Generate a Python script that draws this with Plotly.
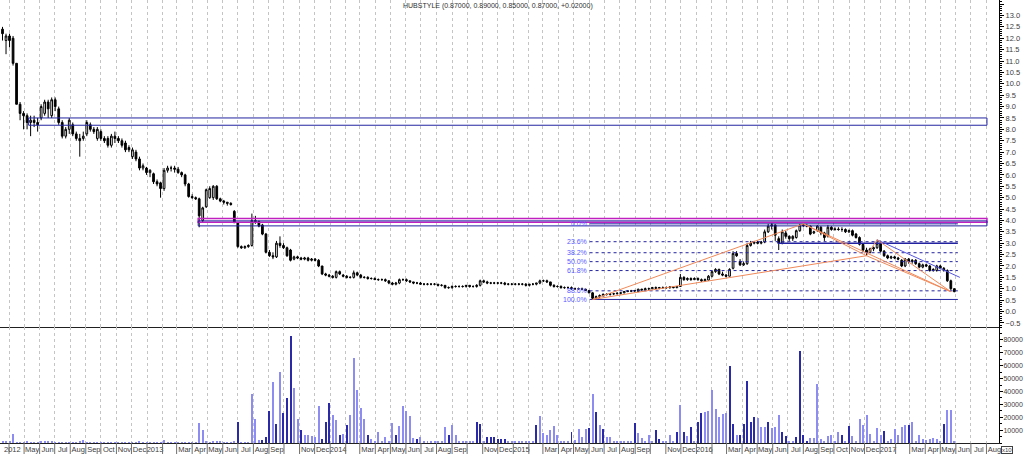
import pandas as pd
import plotly.graph_objects as go
from plotly.subplots import make_subplots

# ---------------- data (weekly bars) ----------------
start_week = "2012-03-19"
opens = [12.4, 11.9, 12.1, 12.0, 10.9, 9.1, 8.7, 8.6, 8.3, 8.4,
         8.3, 8.5, 8.7, 9.2, 8.6, 9.3, 8.9, 8.3, 7.7, 8.0,
         8.2, 7.8, 7.6, 7.6, 7.8, 8.2, 8.0, 7.6, 7.9, 7.6,
         7.6, 7.3, 7.7, 7.6, 7.5, 7.4, 7.2, 6.8, 7.0, 6.7,
         6.3, 6.3, 6.1, 6.05, 5.7, 5.65, 5.4, 6.2, 6.3, 6.3,
         6.25, 6.1, 6.0, 5.6, 5.05, 5.0, 4.95, 4.0, 4.6, 5.0,
         5.0, 5.5, 4.95, 4.85, 4.8, 4.75, 4.4, 3.9, 2.85, 2.8,
         2.85, 2.9, 4.0, 3.95, 3.8, 3.4, 2.6, 2.45, 2.4, 3.0,
         2.9, 2.8, 2.7, 2.3, 2.4, 2.35, 2.3, 2.35, 2.25, 2.3,
         2.25, 2.0, 1.65, 1.6, 1.55, 1.5, 1.75, 1.6, 1.55, 1.5,
         1.5, 1.7, 1.6, 1.5, 1.5, 1.45, 1.45, 1.4, 1.4, 1.4,
         1.35, 1.25, 1.2, 1.25, 1.4, 1.4, 1.35, 1.3, 1.25, 1.25,
         1.2, 1.2, 1.2, 1.2, 1.2, 1.15, 1.15, 1.05, 1.05, 1.1,
         1.1, 1.1, 1.1, 1.15, 1.1, 1.1, 1.15, 1.35, 1.3, 1.25,
         1.25, 1.25, 1.25, 1.25, 1.2, 1.2, 1.2, 1.2, 1.2, 1.2,
         1.15, 1.2, 1.2, 1.25, 1.35, 1.35, 1.3, 1.15, 1.1, 1.1,
         1.05, 1.05, 1.05, 1.0, 1.0, 1.0, 0.98, 0.92, 0.82, 0.6,
         0.65, 0.7, 0.75, 0.75, 0.78, 0.78, 0.8, 0.82, 0.88, 0.9,
         0.9, 0.88, 0.98, 0.95, 1.0, 1.0, 1.05, 1.02, 1.05, 1.05,
         1.05, 1.08, 1.05, 1.1, 1.5, 1.4, 1.45, 1.4, 1.45, 1.4,
         1.35, 1.38, 1.55, 1.75, 1.85, 1.65, 1.6, 1.55, 1.9, 2.55,
         2.2, 2.05, 2.1, 2.9, 3.0, 3.05, 3.0, 3.05, 3.5, 3.75,
         3.8, 3.2, 3.0, 3.45, 3.3, 3.2, 3.25, 3.55, 3.8, 3.78,
         3.75, 3.45, 3.55, 3.7, 3.45, 3.3, 3.7, 3.6, 3.62, 3.6,
         3.6, 3.5, 3.55, 3.4, 3.25, 2.95, 2.7, 2.6, 2.75, 2.8,
         3.0, 2.65, 2.45, 2.35, 2.4, 2.35, 2.25, 2.0, 2.3, 2.2,
         2.25, 2.1, 1.95, 2.05, 2.0, 1.8, 1.8, 2.0, 1.9, 1.8,
         1.35, 1.0]
highs = [12.5, 12.2, 12.2, 12.1, 10.9, 9.2, 8.8, 8.7, 8.6, 8.6,
         8.5, 9.1, 9.3, 9.3, 9.4, 9.4, 9.0, 8.4, 8.1, 8.5,
         8.3, 7.9, 7.8, 7.9, 8.4, 8.3, 8.1, 8.1, 8.0, 7.7,
         7.7, 7.8, 7.9, 7.7, 7.6, 7.5, 7.3, 7.2, 7.1, 6.8,
         6.5, 6.35, 6.25, 6.1, 5.8, 5.7, 6.3, 6.4, 6.4, 6.4,
         6.35, 6.15, 6.05, 5.65, 5.15, 5.05, 5.0, 4.6, 5.4, 5.5,
         5.55, 5.55, 5.0, 4.9, 4.8, 4.8, 4.45, 3.9, 2.9, 2.9,
         2.95, 4.3, 4.2, 4.0, 3.85, 3.45, 2.7, 2.6, 3.1, 3.3,
         3.0, 2.85, 2.75, 2.45, 2.45, 2.4, 2.4, 2.4, 2.35, 2.35,
         2.3, 2.0, 1.7, 1.65, 1.6, 1.8, 1.8, 1.65, 1.6, 1.55,
         1.8, 1.75, 1.65, 1.55, 1.55, 1.5, 1.5, 1.45, 1.45, 1.45,
         1.35, 1.3, 1.3, 1.45, 1.45, 1.45, 1.35, 1.3, 1.3, 1.3,
         1.25, 1.25, 1.25, 1.25, 1.2, 1.2, 1.15, 1.1, 1.15, 1.15,
         1.15, 1.15, 1.15, 1.15, 1.15, 1.2, 1.4, 1.4, 1.35, 1.3,
         1.3, 1.3, 1.3, 1.3, 1.25, 1.25, 1.25, 1.25, 1.25, 1.25,
         1.2, 1.25, 1.25, 1.4, 1.4, 1.4, 1.3, 1.2, 1.15, 1.15,
         1.1, 1.1, 1.1, 1.05, 1.05, 1.05, 1.0, 0.95, 0.85, 0.7,
         0.75, 0.8, 0.8, 0.8, 0.82, 0.85, 0.85, 0.9, 0.92, 0.95,
         0.95, 1.0, 1.0, 1.05, 1.05, 1.08, 1.1, 1.08, 1.1, 1.1,
         1.1, 1.12, 1.12, 1.65, 1.55, 1.5, 1.5, 1.5, 1.5, 1.45,
         1.45, 1.6, 1.8, 1.9, 1.88, 1.75, 1.65, 1.9, 2.65, 2.65,
         2.3, 2.2, 3.0, 3.1, 3.1, 3.1, 3.1, 3.6, 3.85, 3.88,
         3.82, 3.3, 3.6, 3.55, 3.35, 3.35, 3.6, 3.85, 3.87, 3.85,
         3.78, 3.55, 3.8, 3.75, 3.5, 3.8, 3.75, 3.7, 3.7, 3.7,
         3.65, 3.6, 3.6, 3.45, 3.3, 3.0, 2.8, 2.8, 2.85, 3.15,
         3.1, 2.7, 2.5, 2.45, 2.45, 2.4, 2.3, 2.35, 2.35, 2.3,
         2.3, 2.15, 2.1, 2.1, 2.05, 1.9, 2.05, 2.05, 1.95, 1.85,
         1.4, 1.02]
lows = [11.9, 11.3, 11.6, 10.8, 9.1, 8.4, 8.0, 8.0, 7.7, 8.1,
        7.9, 8.4, 8.6, 8.5, 8.5, 8.8, 8.2, 7.6, 7.6, 7.8,
        7.7, 7.5, 6.8, 7.5, 7.7, 7.9, 7.8, 7.5, 7.5, 7.4,
        7.2, 7.2, 7.4, 7.4, 7.2, 7.0, 7.0, 6.7, 6.6, 6.2,
        6.2, 6.0, 5.9, 5.6, 5.5, 5.0, 5.3, 6.1, 6.15, 6.1,
        6.05, 5.9, 5.5, 5.0, 4.95, 4.9, 3.7, 3.9, 4.55, 4.95,
        4.9, 4.9, 4.8, 4.7, 4.65, 4.65, 3.9, 2.8, 2.75, 2.75,
        2.8, 2.85, 3.85, 3.7, 3.35, 2.55, 2.4, 2.3, 2.35, 2.8,
        2.75, 2.4, 2.2, 2.25, 2.3, 2.25, 2.25, 2.2, 2.2, 2.2,
        1.95, 1.6, 1.55, 1.5, 1.45, 1.45, 1.6, 1.5, 1.45, 1.45,
        1.45, 1.55, 1.45, 1.45, 1.4, 1.4, 1.4, 1.35, 1.35, 1.3,
        1.2, 1.15, 1.15, 1.2, 1.35, 1.3, 1.25, 1.2, 1.2, 1.2,
        1.15, 1.15, 1.15, 1.15, 1.1, 1.1, 1.0, 1.0, 1.0, 1.05,
        1.05, 1.05, 1.05, 1.05, 1.05, 1.05, 1.1, 1.25, 1.2, 1.2,
        1.2, 1.2, 1.2, 1.15, 1.15, 1.15, 1.15, 1.15, 1.15, 1.1,
        1.1, 1.15, 1.15, 1.2, 1.3, 1.25, 1.1, 1.05, 1.05, 1.0,
        1.0, 1.0, 0.95, 0.95, 0.95, 0.95, 0.9, 0.8, 0.53, 0.55,
        0.6, 0.65, 0.7, 0.7, 0.72, 0.75, 0.75, 0.8, 0.85, 0.85,
        0.85, 0.85, 0.92, 0.92, 0.95, 0.98, 1.0, 0.98, 1.0, 1.0,
        1.0, 1.02, 1.02, 1.08, 1.35, 1.35, 1.35, 1.38, 1.35, 1.3,
        1.3, 1.35, 1.5, 1.7, 1.6, 1.55, 1.5, 1.55, 1.85, 2.4,
        2.0, 2.0, 2.05, 2.85, 2.95, 2.95, 2.95, 3.0, 3.45, 3.6,
        3.1, 2.7, 2.95, 3.2, 3.1, 3.1, 3.2, 3.5, 3.7, 3.7,
        3.35, 3.4, 3.5, 3.35, 3.1, 3.25, 3.55, 3.55, 3.55, 3.5,
        3.45, 3.45, 3.3, 3.2, 2.9, 2.6, 2.45, 2.55, 2.65, 2.75,
        2.6, 2.4, 2.3, 2.3, 2.3, 2.25, 1.95, 1.95, 2.1, 2.1,
        2.05, 1.9, 1.9, 1.95, 1.75, 1.75, 1.75, 1.85, 1.75, 1.3,
        0.95, 0.85]
closes = [12.2, 12.1, 11.9, 10.9, 9.1, 8.7, 8.6, 8.3, 8.4, 8.3,
          8.2, 9.0, 9.2, 8.9, 9.3, 9.0, 8.3, 7.7, 8.0, 8.4,
          7.8, 7.6, 7.5, 7.7, 8.3, 8.0, 7.9, 8.0, 7.6, 7.5,
          7.3, 7.7, 7.6, 7.5, 7.3, 7.1, 7.1, 7.1, 6.7, 6.3,
          6.4, 6.1, 6.2, 5.7, 5.6, 5.4, 6.2, 6.3, 6.3, 6.25,
          6.1, 6.0, 5.6, 5.05, 5.0, 4.95, 4.2, 4.55, 5.35, 5.4,
          5.5, 4.95, 4.85, 4.8, 4.75, 4.7, 3.9, 2.85, 2.8, 2.85,
          2.9, 4.0, 3.95, 3.75, 3.4, 2.6, 2.45, 2.4, 3.0, 2.9,
          2.8, 2.45, 2.25, 2.4, 2.35, 2.3, 2.35, 2.25, 2.3, 2.25,
          2.0, 1.65, 1.6, 1.55, 1.5, 1.75, 1.65, 1.55, 1.5, 1.5,
          1.7, 1.6, 1.5, 1.5, 1.45, 1.45, 1.4, 1.4, 1.4, 1.35,
          1.25, 1.2, 1.25, 1.4, 1.4, 1.35, 1.3, 1.25, 1.25, 1.2,
          1.2, 1.2, 1.2, 1.2, 1.15, 1.15, 1.05, 1.05, 1.1, 1.1,
          1.1, 1.1, 1.15, 1.1, 1.1, 1.15, 1.35, 1.3, 1.25, 1.25,
          1.25, 1.25, 1.25, 1.2, 1.2, 1.2, 1.2, 1.2, 1.2, 1.15,
          1.2, 1.2, 1.25, 1.35, 1.35, 1.3, 1.15, 1.1, 1.1, 1.05,
          1.05, 1.05, 1.0, 1.0, 1.0, 0.98, 0.92, 0.82, 0.58, 0.65,
          0.7, 0.75, 0.75, 0.78, 0.78, 0.8, 0.82, 0.88, 0.9, 0.9,
          0.92, 0.98, 0.95, 1.0, 1.0, 1.05, 1.02, 1.05, 1.05, 1.05,
          1.08, 1.05, 1.1, 1.5, 1.4, 1.45, 1.4, 1.45, 1.4, 1.35,
          1.4, 1.55, 1.75, 1.85, 1.65, 1.6, 1.55, 1.85, 2.55, 2.45,
          2.05, 2.1, 2.9, 3.0, 3.05, 3.0, 3.05, 3.5, 3.75, 3.8,
          3.35, 3.0, 3.5, 3.3, 3.2, 3.3, 3.55, 3.8, 3.78, 3.75,
          3.4, 3.5, 3.75, 3.45, 3.25, 3.7, 3.6, 3.62, 3.6, 3.6,
          3.5, 3.55, 3.35, 3.25, 2.95, 2.7, 2.6, 2.75, 2.8, 3.0,
          2.65, 2.45, 2.35, 2.4, 2.35, 2.3, 2.0, 2.3, 2.2, 2.25,
          2.1, 1.95, 2.05, 2.0, 1.8, 1.85, 2.0, 1.9, 1.8, 1.35,
          1.0, 0.87]
volumes = [1500, 800, 1200, 6900, 600, 500, 400, 1500, 500, 400,
           300, 1700, 1200, 1700, 1700, 600, 400, 300, 400, 300,
           300, 400, 1000, 2500, 400, 300, 300, 400, 300, 300,
           300, 300, 400, 300, 300, 400, 300, 300, 400, 1000,
           300, 400, 300, 400, 300, 500, 2500, 400, 300, 300,
           300, 400, 300, 400, 500, 600, 15200, 10300, 800, 600,
           1000, 1200, 1000, 500, 400, 500, 800, 16500, 500, 400,
           500, 38000, 18700, 2500, 2500, 4300, 25000, 47600, 14700, 54900,
           23300, 34700, 83400, 42500, 18600, 9800, 6400, 5900, 5400, 4600,
           28900, 3100, 16500, 30800, 21800, 18200, 5900, 7200, 13700, 21400,
           66000, 41200, 26900, 18600, 5900, 3100, 1800, 8400, 1800, 4600,
           1500, 15300, 6400, 13100, 28900, 25000, 20900, 3800, 3100, 4300,
           1600, 1600, 1600, 1600, 1600, 1600, 12500, 5900, 13700, 5900,
           1500, 1500, 1500, 1500, 1500, 16300, 14700, 1500, 4600, 4300,
           4600, 3100, 3100, 3100, 1000, 1000, 1000, 1000, 1000, 1000,
           1000, 1000, 13700, 20900, 7800, 6400, 9800, 13100, 6400, 1800,
           1800, 1800, 8400, 2000, 11000, 4600, 11000, 11500, 38000, 24000,
           13700, 11000, 4600, 4600, 1800, 1800, 1800, 1800, 1800, 1800,
           15800, 7800, 3800, 1500, 5900, 1500, 10200, 3100, 1500, 1500,
           5900, 1500, 8400, 29600, 8400, 5400, 12800, 1500, 16300, 23300,
           23900, 24500, 41200, 26600, 20100, 22700, 23300, 59600, 14700, 5900,
           5900, 14700, 48400, 16600, 20000, 19200, 12800, 12800, 16600, 11500,
           12300, 21800, 8400, 5400, 1500, 1500, 4600, 71700, 6400, 1000,
           3800, 3800, 45800, 3100, 1500, 5400, 6400, 1500, 8400, 5900,
           1500, 13100, 5100, 1500, 18600, 13700, 21400, 7200, 1500, 11500,
           6400, 9000, 1500, 3100, 11000, 5900, 12300, 13700, 13700, 16300,
           1500, 5900, 3100, 2300, 3100, 3800, 3100, 1500, 14700, 25600,
           25600, 1500]
# weeks whose volume bar is drawn in the darker blue
dark_volume_weeks = [67, 74, 75, 76, 78, 80, 81, 82, 85, 91, 92, 93, 96, 98, 104,
                     112, 118, 127, 135, 136, 138, 139, 140, 141, 142, 143, 152,
                     162, 167, 169, 171, 180, 186, 187, 192, 194, 196, 198, 199,
                     207, 208, 210, 211, 212, 213, 214, 218, 222, 223, 226, 227,
                     228, 229, 239, 241, 251, 258, 268]

# x-axis month labels (Apr 2012 .. Aug 2017)
month_labels = ["", "May", "Jun", "Jul", "Aug", "Sep", "Oct", "Nov", "Dec",
                "2013", "", "Mar", "Apr", "May", "Jun", "Jul", "Aug", "Sep", "", "Nov", "Dec",
                "2014", "", "Mar", "Apr", "May", "Jun", "Jul", "Aug", "Sep", "", "Nov", "Dec",
                "2015", "", "Mar", "Apr", "May", "Jun", "Jul", "Aug", "Sep", "", "Nov", "Dec",
                "2016", "", "Mar", "Apr", "May", "Jun", "Jul", "Aug", "Sep", "Oct", "Nov", "Dec",
                "2017", "", "Mar", "Apr", "May", "Jun", "Jul", "Aug"]
first_year_label = "2012"
title_text = "HUBSTYLE (0.87000, 0.89000, 0.85000, 0.87000, +0.02000)"

# drawn objects (dates / prices)
blue_box_dates, blue_box_prices = ["2012-05-10", "2017-08-02"], [8.18, 8.5]
magenta_box_dates, magenta_box_prices = ["2013-04-13", "2017-08-02"], [3.92, 4.08]
blue_box2_dates, blue_box2_prices = ["2013-04-13", "2017-08-02"], [3.76, 3.98]
fib_dates = ["2015-06-02", "2017-06-05"]
fib_high, fib_low = 3.85, 0.53
fib_ratios = [0.0, 0.236, 0.382, 0.5, 0.618, 0.886, 1.0]
pattern_dates = ["2015-06-08", "2016-08-01", "2016-12-05", "2016-12-26", "2017-05-22"]
pattern_prices = [0.53, 3.85, 2.45, 3.15, 0.87]
support_dates, support_price = ["2016-06-11", "2017-06-05"], 3.0
trend_dates, trend_prices = ["2016-12-26", "2017-06-09"], [3.15, 1.5]
x_range = ["2012-03-14", "2017-08-26"]

# ---------------- figure ----------------
weeks = pd.date_range(start_week, periods=len(closes), freq="7D")
months = pd.date_range("2012-04-01", periods=len(month_labels), freq="MS")

fig = make_subplots(rows=2, cols=1, shared_xaxes=True, vertical_spacing=0,
                    row_heights=[327 / 443, 116 / 443])

fig.add_trace(go.Candlestick(
    x=weeks, open=opens, high=highs, low=lows, close=closes,
    increasing=dict(line=dict(color="black", width=1), fillcolor="white"),
    decreasing=dict(line=dict(color="black", width=1), fillcolor="black"),
    whiskerwidth=0, showlegend=False, hoverinfo="skip"), row=1, col=1)

DARK_VOL, LIGHT_VOL = "#2a2aa8", "#8c8cf2"
dark_set = set(dark_volume_weeks)
vol_colors = [DARK_VOL if i in dark_set else LIGHT_VOL for i in range(len(volumes))]
fig.add_trace(go.Bar(x=weeks, y=volumes, marker=dict(color=vol_colors, line=dict(width=0)),
                     width=2.0 * 86400000, showlegend=False, hoverinfo="skip"), row=2, col=1)

BLUE = "#2222a0"
MAGENTA = "#c020c0"
ORANGE = "#f08a5a"

def rect(d, p, color, width=1):
    fig.add_shape(type="rect", xref="x", yref="y", x0=d[0], x1=d[1], y0=p[0], y1=p[1],
                  line=dict(color=color, width=width), fillcolor="rgba(0,0,0,0)")

def seg(x0, y0, x1, y1, color, dash="solid", width=1):
    fig.add_shape(type="line", xref="x", yref="y", x0=x0, x1=x1, y0=y0, y1=y1,
                  line=dict(color=color, width=width, dash=dash))

rect(blue_box_dates, blue_box_prices, BLUE)
rect(magenta_box_dates, magenta_box_prices, MAGENTA, 1.5)
rect(blue_box2_dates, blue_box2_prices, BLUE)

# Fibonacci retracement
for r in fib_ratios:
    lvl = fib_high - r * (fib_high - fib_low)
    solid = r in (0.0, 1.0)
    seg(fib_dates[0], lvl, fib_dates[1], lvl, BLUE, "solid" if solid else "3px,3px")
    fig.add_annotation(x=fib_dates[0], y=lvl, xref="x", yref="y", text=f"{r*100:.1f}%",
                       showarrow=False, xanchor="right", yanchor="middle", xshift=-1,
                       font=dict(size=7, color="#5a5aff", family="Liberation Sans"))

seg(support_dates[0], support_price, support_dates[1], support_price, BLUE, width=1.5)
seg(trend_dates[0], trend_prices[0], trend_dates[1], trend_prices[1], "#5555dd")

# harmonic pattern lines X-A-B-C-D with X-B and B-D
pairs = [(0, 1), (1, 2), (2, 3), (3, 4), (0, 2), (2, 4), (1, 4)]
for a, b in pairs:
    seg(pattern_dates[a], pattern_prices[a], pattern_dates[b], pattern_prices[b], ORANGE)

# month separators in the date band below the volume panel
for m in months:
    fig.add_shape(type="line", xref="x", yref="paper", x0=m, x1=m, y0=0, y1=-11 / 443,
                  line=dict(color="#707070", width=1))

# ---------------- layout ----------------
tick_font = dict(family="Liberation Sans", size=7.5, color="#404040")
vol_font = dict(family="Liberation Sans", size=7, color="#404040")
grid = dict(showgrid=True, gridcolor="#c4c4c4", griddash="dot", gridwidth=1,
            tickmode="array", tickvals=months, range=x_range, automargin=False)
fig.update_xaxes(**grid)
fig.update_xaxes(row=1, col=1, showticklabels=False, ticks="", showline=True,
                 linecolor="#202020", linewidth=1, rangeslider_visible=False)
fig.update_xaxes(row=2, col=1, ticktext=month_labels, ticks="", showline=True,
                 linecolor="#202020", linewidth=1, tickfont=tick_font, tickangle=0,
                 ticklabelshift=8, ticklabelstandoff=-1)

fig.update_yaxes(row=1, col=1, side="right", range=[-0.68, 13.68], dtick=0.5,
                 tickformat=".1f", ticks="outside", ticklen=4, tickcolor="black",
                 minor=dict(ticks="outside", ticklen=2, dtick=0.1, tickcolor="black"),
                 showline=True, linecolor="black", linewidth=1, showgrid=False,
                 zeroline=False, tickfont=tick_font, automargin=False)
fig.update_yaxes(row=2, col=1, side="right", range=[0, 90000], tickformat="d",
                 tickvals=[10000, 20000, 30000, 40000, 50000, 60000, 70000, 80000],
                 ticks="outside", ticklen=3, tickcolor="black",
                 minor=dict(ticks="outside", ticklen=2, dtick=5000, tickcolor="black"),
                 showline=True, linecolor="black", linewidth=1, showgrid=False,
                 zeroline=False, tickfont=vol_font, automargin=False,
                 ticklabelstandoff=-1)

fig.add_annotation(xref="paper", yref="paper", x=498 / 999, y=1 - 6 / 443, text=title_text,
                   showarrow=False, xanchor="center", yanchor="middle",
                   font=dict(family="Liberation Sans", size=7, color="#303030"))
fig.add_annotation(xref="paper", yref="paper", x=0.002, y=-6 / 443, text=first_year_label,
                   showarrow=False, xanchor="left", yanchor="middle", font=tick_font)
fig.add_annotation(xref="paper", yref="paper", x=1001 / 999, y=-7 / 443, text="x10",
                   showarrow=False, xanchor="left", yanchor="middle",
                   font=dict(family="Liberation Sans", size=6, color="#404040"),
                   bordercolor="#404040", borderwidth=1, borderpad=0)

fig.update_layout(width=1024, height=454, margin=dict(l=0, r=25, t=0, b=11),
                  paper_bgcolor="white", plot_bgcolor="white", showlegend=False,
                  bargap=0, hovermode=False, boxgap=0.3)

fig.write_html("out.html")
